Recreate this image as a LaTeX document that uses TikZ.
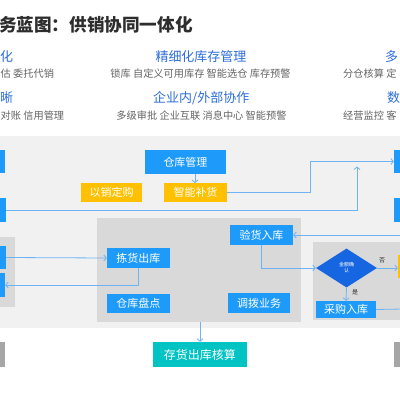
\documentclass[tikz,border=0pt]{standalone}
\usepackage{fontspec}
\setmainfont{Noto Sans CJK SC}
\usetikzlibrary{shapes.geometric,arrows.meta}
\definecolor{cblue}{RGB}{30,155,250}
\definecolor{cyel}{RGB}{255,192,0}
\definecolor{cteal}{RGB}{0,196,196}
\definecolor{cline}{RGB}{110,180,245}
\definecolor{cdia}{RGB}{22,102,225}
\definecolor{chead}{RGB}{45,110,220}
\definecolor{csub}{RGB}{100,100,100}
\definecolor{ctitle}{RGB}{45,45,45}
\definecolor{cbg}{RGB}{241,241,241}
\definecolor{cpanel}{RGB}{217,217,217}
\definecolor{cgbox}{RGB}{166,166,166}
\tikzset{
  fs/.style={font=\fontsize{#1}{#1}\selectfont},
  bbox/.style={fill=cblue,text=white,inner sep=0pt,fs=11},
  ybox/.style={fill=cyel,text=white,inner sep=0pt,fs=11},
  panel/.style={fill=cpanel,inner sep=0pt},
  arr/.style={draw=cline,line width=0.8pt,-{Straight Barb[length=2.5pt,width=6pt]}},
  ln/.style={draw=cline,line width=0.8pt},
  head/.style={text=chead,fs=13,inner sep=0pt},
  sub/.style={text=csub,fs=10.2,inner sep=0pt},
  lbl/.style={text=ctitle,fs=6,inner sep=0pt}
}
\begin{document}
\begin{tikzpicture}[x=1pt,y=-1pt]
\useasboundingbox (0,0) rectangle (400,400);
\fill[white] (0,0) rectangle (400,400);
% title
\node[anchor=west,text=ctitle,inner sep=0pt,font={\fontsize{17.6}{17.6}\selectfont\bfseries}] (title) at (-1,25) {务蓝图：供销协同一体化};
% headings
\node[head,anchor=west] (h1a) at (0,57) {化};
\node[head] (h1b) at (201,57) {精细化库存管理};
\node[head,anchor=west] (h1c) at (385,57) {多};
\node[sub,anchor=west] (s1a) at (0.5,74) {估 委托代销};
\node[sub] (s1b) at (200.5,74) {锁库 自定义可用库存 智能选仓 库存预警};
\node[sub,anchor=west] (s1c) at (343,74) {分仓核算 定};
\node[head,anchor=west] (h2a) at (0,98) {晰};
\node[head,anchor=west] (h2b) at (153,98) {企业内/外部协作};
\node[head,anchor=west] (h2c) at (387,98) {数};
\node[sub,anchor=west] (s2a) at (0.5,116) {对账 信用管理};
\node[sub] (s2b) at (201.5,116) {多级审批 企业互联 消息中心 智能预警};
\node[sub,anchor=west] (s2c) at (343,116) {经营监控 客};
% backgrounds
\fill[cbg] (0,136) rectangle (400,328);
\node[panel,minimum width=40pt,minimum height=70pt] (p1) at (-5,272) {};
\node[panel,minimum width=204pt,minimum height=104pt] (p2) at (199,270) {};
\node[panel,minimum width=100pt,minimum height=78pt] (p3) at (363,281) {};
% left / right edge boxes
\node[bbox,minimum width=40pt,minimum height=23pt] (lb1) at (-15,161.5) {};
\node[bbox,minimum width=40pt,minimum height=24pt] (lb2) at (-14,210) {};
\node[bbox,minimum width=40pt,minimum height=23pt] (lb3) at (-14,257.5) {};
\node[bbox,minimum width=40pt,minimum height=24pt] (lb4) at (-15,285) {};
\node[bbox,minimum width=40pt,minimum height=23pt] (rb1) at (414,161.5) {};
\node[bbox,minimum width=40pt,minimum height=24pt] (rb2) at (414,210) {};
\node[ybox,minimum width=40pt,minimum height=23pt] (ry) at (418,266.5) {};
\node[fill=cgbox,inner sep=0pt,minimum width=40pt,minimum height=25pt] (gl) at (-15,354.5) {};
\node[fill=cgbox,inner sep=0pt,minimum width=40pt,minimum height=25pt] (gr) at (414,354.5) {};
% middle boxes
\node[bbox,minimum width=81pt,minimum height=24pt] (ckgl) at (185.5,162) {仓库管理};
\node[ybox,minimum width=61pt,minimum height=19pt] (yxdg) at (111.5,192.5) {以销定购};
\node[ybox,minimum width=63pt,minimum height=19pt] (znbh) at (195.5,192.5) {智能补货};
\node[bbox,minimum width=63pt,minimum height=20pt] (jhck) at (138.5,258) {拣货出库};
\node[bbox,minimum width=63pt,minimum height=19pt] (ckpd) at (138.5,303.5) {仓库盘点};
\node[bbox,minimum width=62pt,minimum height=20pt] (dbyw) at (259,303) {调拨业务};
\node[bbox,minimum width=63pt,minimum height=20pt] (yhrk) at (261.5,235) {验货入库};
\node[shape=diamond,fill=cdia,text=white,inner sep=0pt,minimum width=61pt,minimum height=39pt,aspect=1.56,align=center,font=\fontsize{5}{6}\selectfont] (dia) at (346.5,268) {金额确\\认};
\node[bbox,minimum width=60pt,minimum height=17pt] (cgrk) at (346,309.5) {采购入库};
\node[fill=cteal,text=white,inner sep=0pt,minimum width=94pt,minimum height=25pt,fs=12] (chhs) at (200,354.5) {存货出库核算};
% coordinates
\coordinate (t1) at (357,166.5);
\coordinate (rin) at (402,235);
\coordinate (rout) at (402,309);
% connectors
\draw[arr] (ckgl.south -| 195,0) -- (195,183);
\draw[arr] (znbh.east) -- ++(83,0) |- (rb1.west);
\draw[arr] (lb2.east) -| (t1);
\draw[arr] (rin) -- (yhrk.east);
\draw[arr] (yhrk.south) |- (dia.west);
\draw[arr] (dia.east) -- (ry.west |- dia.east);
\draw[arr] (dia.south) -- (cgrk.north);
\draw[ln] (cgrk.east) -- (rout);
\draw[arr] (lb3.east) -- (jhck.west);
\draw[arr] (jhck.south) |- (lb4.east);
\draw[arr] (chhs.north |- p2.south) -- (chhs.north);
\node[lbl] (fou) at (382,260) {否};
\node[lbl] (shi) at (355,292) {是};
\end{tikzpicture}
\end{document}
